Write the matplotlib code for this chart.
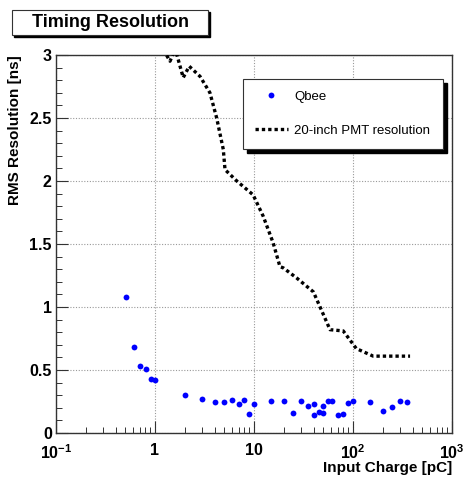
import numpy as np
from matplotlib import pyplot as plt
from matplotlib import ticker
from matplotlib.patches import Rectangle

plt.rcParams['font.family'] = ['Liberation Sans', 'DejaVu Sans']
plt.rcParams['mathtext.fontset'] = 'custom'
plt.rcParams['mathtext.rm'] = 'Liberation Sans'
plt.rcParams['mathtext.bf'] = 'Liberation Sans:bold'

# Qbee measurements (input charge in pC, RMS resolution in ns)
qbee_charge = [0.51, 0.61, 0.71, 0.82, 0.92, 1.0, 2.0, 3.0, 4.0, 5.0, 6.0, 7.0,
               8.0, 9.0, 10, 15, 20, 25, 30, 35, 40, 40, 45, 50, 50, 56, 61,
               70, 80, 90, 100, 150, 200, 250, 300, 350]
qbee_rms = [1.08, 0.68, 0.53, 0.51, 0.43, 0.42, 0.30, 0.27, 0.244, 0.244, 0.265,
            0.228, 0.26, 0.154, 0.228, 0.254, 0.254, 0.157, 0.254, 0.215, 0.233,
            0.146, 0.17, 0.217, 0.157, 0.254, 0.257, 0.14, 0.148, 0.24, 0.254,
            0.249, 0.175, 0.21, 0.257, 0.247]

# 20-inch PMT reference curve
pmt_charge = [1.22, 1.42, 1.6, 1.93, 2.22, 2.85, 3.59, 4.2, 4.9, 5.1, 6.7, 9.8,
              12.4, 15.6, 18.3, 19.8, 27, 39.8, 46.5, 58.6, 79.7, 108, 160, 377]
pmt_rms = [3.04, 2.95, 3.05, 2.82, 2.91, 2.83, 2.70, 2.5, 2.25, 2.09, 2.0, 1.89,
           1.72, 1.51, 1.32, 1.31, 1.23, 1.12, 1.00, 0.82, 0.81, 0.67, 0.61, 0.61]

xtick_vals = [0.1, 1, 10, 100, 1000]
xtick_labels = [r'$\mathbf{10^{-1}}$', '1', '10', r'$\mathbf{10^{2}}$', r'$\mathbf{10^{3}}$']
ytick_vals = [0, 0.5, 1, 1.5, 2, 2.5, 3]
ytick_labels = ['0', '0.5', '1', '1.5', '2', '2.5', '3']

fig = plt.figure(figsize=(4.66, 4.78), dpi=100)
ax = fig.add_axes([0.120, 0.0941, 0.850, 0.791])

ax.plot(qbee_charge, qbee_rms, 'o', color='#0000ff', ms=4.2, mec='none',
        label='Qbee', zorder=3)
ax.plot(pmt_charge, pmt_rms, color='black', lw=2.4, ls=(0, (1, 0.9)),
        label='20-inch PMT resolution', zorder=3)

ax.set_xscale('log')
ax.set_xlim(0.1, 1000)
ax.set_ylim(0, 3)

ax.set_xticks(xtick_vals)
ax.set_xticklabels(xtick_labels)
ax.xaxis.set_minor_locator(ticker.LogLocator(base=10, subs=np.arange(2, 10)))
ax.xaxis.set_minor_formatter(ticker.NullFormatter())
ax.set_yticks(ytick_vals)
ax.set_yticklabels(ytick_labels)
ax.yaxis.set_minor_locator(ticker.MultipleLocator(0.1))

ax.tick_params(which='both', direction='in', top=False, right=False, color='#333333')
ax.tick_params(which='major', length=8.5, width=0.8, labelsize=11.5)
ax.tick_params(axis='y', which='major', pad=3)
ax.tick_params(axis='x', which='major', pad=7.5)
ax.tick_params(which='minor', length=4.3, width=0.7)
for lab in ax.get_xticklabels() + ax.get_yticklabels():
    lab.set_fontweight('bold')

ax.grid(True, which='major', color='#999999', ls=(0, (1, 1.5)), lw=0.8)
for sp in ax.spines.values():
    sp.set_linewidth(1.0)
    sp.set_color('#333333')

ax.set_xlabel('Input Charge [pC]', fontsize=11, fontweight='bold', loc='right', labelpad=-1)
ax.set_ylabel('RMS Resolution [ns]', fontsize=11, fontweight='bold', loc='top', labelpad=5)

leg = ax.legend(loc='upper left', bbox_to_anchor=(0.472, 0.751, 0.505, 0.186),
                mode='expand', fancybox=False, framealpha=1, edgecolor='#333333',
                fontsize=9.5, handlelength=2.5, handletextpad=0.5,
                borderpad=0.9, labelspacing=1.65, borderaxespad=0)
leg.get_frame().set_linewidth(0.8)
leg.set_zorder(6)

# legend shadow
ax.add_patch(Rectangle((0.472 + 0.011, 0.751 - 0.011), 0.505, 0.186,
                       transform=ax.transAxes, color='black', zorder=5.5, clip_on=False))

# title box with shadow
fig.patches.append(Rectangle((14 / 466, 1 - 37 / 478), 196 / 466, 25 / 478,
                             transform=fig.transFigure, color='black', zorder=1))
fig.patches.append(Rectangle((12 / 466, 1 - 35 / 478), 196 / 466, 25 / 478,
                             transform=fig.transFigure, facecolor='white',
                             edgecolor='#333333', lw=0.8, zorder=2))
fig.text(110 / 466, 1 - 22.5 / 478, 'Timing Resolution', fontsize=13,
         fontweight='bold', ha='center', va='center', zorder=3)

fig.savefig('out.png', dpi=100)
